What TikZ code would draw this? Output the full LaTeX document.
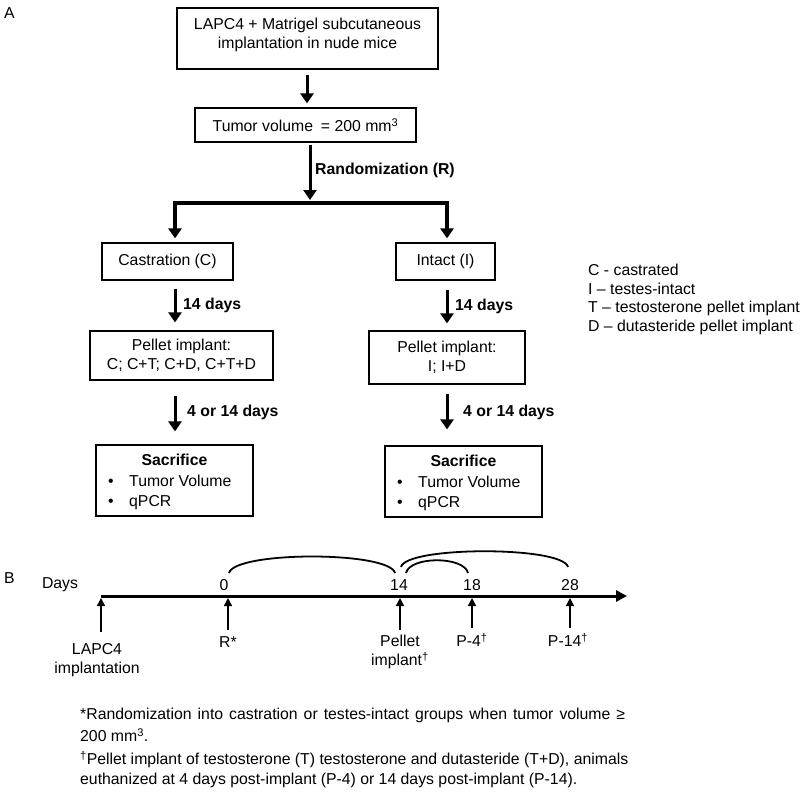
\documentclass[tikz,border=0pt]{standalone}
\usepackage{fontspec}
\setmainfont{Liberation Sans}
\usetikzlibrary{arrows.meta}
\begin{document}
\begin{tikzpicture}[x=1pt,y=-1pt,
  every node/.style={font=\fontsize{15.8}{19}\selectfont, inner sep=0pt},
  box/.style={draw, line width=1.2pt},
  bigarrow/.style={line width=3pt, -{Triangle[width=13pt,length=10pt]}},
  tickarrow/.style={line width=1.4pt, -{Triangle[width=8pt,length=8pt]}},
  axisarrow/.style={line width=3pt, -{Triangle[width=11pt,length=11pt]}},
  arcline/.style={line width=1.8pt},
  lbl/.style={font=\bfseries\fontsize{15.8}{19}\selectfont, anchor=west},
  bul/.style={anchor=base},
  item/.style={anchor=base west}]
\fill[white] (0,0) rectangle (800,795);
\useasboundingbox (0,0) rectangle (800,795);

% ---------- Panel A ----------
\node[anchor=west] (labA) at (4,13) {A};
\node[box, minimum width=261pt, minimum height=61pt] (b1) at (307.5,38.5) {};
\node[align=center] (t1) at (307.5,35) {LAPC4 + Matrigel subcutaneous\\implantation in nude mice};
\node[box, minimum width=221pt, minimum height=34pt] (b2) at (305.5,125) {Tumor volume\hspace{0.5em}= 200 mm\textsuperscript{3}};

\coordinate (ax1) at (307,0);
\coordinate (brC) at (310,203);
\coordinate (brL) at (175,203);
\coordinate (brR) at (447,203);

\draw[bigarrow, shorten <=5pt, shorten >=4pt] (b1.south -| ax1) -- (b2.north -| ax1);
\draw[bigarrow, shorten <=2pt, shorten >=3pt] (b2.south -| brC) -- (brC);
\node[lbl] (rl) at (315,170) {Randomization (R)};

\node[box, minimum width=131pt, minimum height=37pt] (castr) at (167.5,261.5) {Castration (C)};
\node[box, minimum width=99pt, minimum height=37pt] (intact) at (445.5,261.5) {Intact (I)};

\draw[bigarrow, line width=3.5pt, shorten >=4pt] (brC) -| (castr.north -| brL);
\draw[bigarrow, line width=3.5pt, shorten >=4pt] (brC) -| (intact.north -| brR);

\node[box, minimum width=183pt, minimum height=49pt, align=center] (pelL) at (181.5,355.5) {Pellet implant:\\C; C+T; C+D, C+T+D};
\node[box, minimum width=156pt, minimum height=53pt, align=center] (pelR) at (447,357.5) {Pellet implant:\\I; I+D};

\draw[bigarrow, shorten <=8pt, shorten >=8pt] (castr.south -| brL) -- (pelL.north -| brL);
\draw[bigarrow, shorten <=9pt, shorten >=7pt] (intact.south -| brR) -- (pelR.north -| brR);
\node[lbl] (d14L) at (183,305) {14 days};
\node[lbl] (d14R) at (455,306) {14 days};

\node[box, minimum width=157pt, minimum height=71pt] (sacL) at (174.5,480.5) {};
\node[box, minimum width=157pt, minimum height=71pt] (sacR) at (463.5,481.5) {};

\draw[bigarrow, shorten <=15pt, shorten >=13pt] (pelL.south -| brL) -- (sacL.north -| brL);
\draw[bigarrow, shorten <=9pt, shorten >=16pt] (pelR.south -| brR) -- (sacR.north -| brR);
\node[lbl] (d4L) at (187,412) {4 or 14 days};
\node[lbl] (d4R) at (463,412) {4 or 14 days};

\node[font=\bfseries\fontsize{15.8}{19}\selectfont] (sacLt) at (174.5,460) {Sacrifice};
\node[bul] (sacLb1) at (111,486) {•};
\node[item] (sacLi1) at (129,486) {Tumor Volume};
\node[bul] (sacLb2) at (111,506) {•};
\node[item] (sacLi2) at (129,506) {qPCR};

\node[font=\bfseries\fontsize{15.8}{19}\selectfont] (sacRt) at (463.5,461) {Sacrifice};
\node[bul] (sacRb1) at (400,487) {•};
\node[item] (sacRi1) at (418,487) {Tumor Volume};
\node[bul] (sacRb2) at (400,507) {•};
\node[item] (sacRi2) at (418,507) {qPCR};

\node[anchor=west] (lg1) at (588,270) {C - castrated};
\node[anchor=west] (lg2) at (588,289) {I – testes-intact};
\node[anchor=west] (lg3) at (588,308) {T – testosterone pellet implant};
\node[anchor=west] (lg4) at (588,327) {D – dutasteride pellet implant};

% ---------- Panel B ----------
\node[anchor=west] (labB) at (4,578) {B};
\node (days) at (60,585) {Days};

\coordinate (axS) at (101,596);
\coordinate (axE) at (627,596);
\draw[axisarrow] (axS) -- (axE);

\coordinate (p0) at (101,598);  \coordinate (q0) at (101,632);
\coordinate (p1) at (228,598);  \coordinate (q1) at (228,630);
\coordinate (p2) at (400,598);  \coordinate (q2) at (400,630);
\coordinate (p3) at (472,598);  \coordinate (q3) at (472,628);
\coordinate (p4) at (570,598);  \coordinate (q4) at (570,628);
\draw[tickarrow] (q0) -- (p0);
\draw[tickarrow] (q1) -- (p1);
\draw[tickarrow] (q2) -- (p2);
\draw[tickarrow] (q3) -- (p3);
\draw[tickarrow] (q4) -- (p4);

\node (n0) at (224,585) {0};
\node (n14) at (399,585) {14};
\node (n18) at (472,585) {18};
\node (n28) at (570,585) {28};

\draw[arcline] (229,573) .. controls (235,551) and (389,551) .. (395,573);
\draw[arcline] (406,573) .. controls (410,556) and (464,556) .. (468,573);
\draw[arcline] (401,567) .. controls (406,546) and (563,546) .. (568,567);

\node[align=center] (lapc) at (97,660) {LAPC4\\implantation};
\node (rstar) at (228,642) {R*};
\node[align=center] (pell) at (400,652) {Pellet\\implant\textsuperscript{†}};
\node (p4l) at (472,640) {P-4\textsuperscript{†}};
\node (p14l) at (568,640) {P-14\textsuperscript{†}};

\node[anchor=west] (fn1) at (80,715) {\makebox[545pt][s]{*Randomization into castration or testes-intact groups when tumor volume ≥}};
\node[anchor=west] (fn2) at (80,735) {200 mm\textsuperscript{3}.};
\node[anchor=west] (fn3) at (80,760) {\textsuperscript{†}Pellet implant of testosterone (T) testosterone and dutasteride (T+D), animals};
\node[anchor=west] (fn4) at (80,780) {euthanized at 4 days post-implant (P-4) or 14 days post-implant (P-14).};
\end{tikzpicture}
\end{document}
